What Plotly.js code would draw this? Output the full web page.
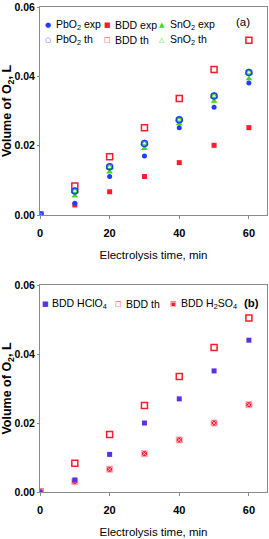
<!DOCTYPE html>
<html><head><meta charset="utf-8">
<script src="https://cdn.plot.ly/plotly-3.0.1.min.js"></script>
<style>html,body{margin:0;padding:0;background:#fff;}#chart{width:269px;height:539px;}</style>
</head><body><div id="chart"></div>
<script>
// ---- data ----
const time = [0, 10, 20, 30, 40, 50, 60];
// panel (a)
const pbo2Exp = [0, 0.0034, 0.0111, 0.0170, 0.0252, 0.0311, 0.0381];
const pbo2Th  = [0, 0.0069, 0.0139, 0.0206, 0.0275, 0.0343, 0.0411];
const sno2Exp = [0, 0.0055, 0.0124, 0.0192, 0.0263, 0.0328, 0.0393];
const sno2Th  = [0, 0.0069, 0.0138, 0.0206, 0.0275, 0.0343, 0.0411];
const bddExp  = [0, 0.0029, 0.0067, 0.0111, 0.0151, 0.0201, 0.0252];
const bddTh   = [0, 0.0084, 0.0168, 0.0252, 0.0336, 0.0420, 0.0504];
// panel (b)
const bddHClO4 = [0, 0.0035, 0.0109, 0.0200, 0.0270, 0.0351, 0.0440];
const bddThB   = [0, 0.0083, 0.0167, 0.0251, 0.0335, 0.0419, 0.0504];
const bddH2SO4 = [0, 0.0030, 0.0066, 0.0111, 0.0151, 0.0200, 0.0253];
// ticks & labels
const xTicks = [0, 20, 40, 60];
const yTicks = [0, 0.02, 0.04, 0.06];
const xTitle = 'Electrolysis time, min';
const yTitle = 'Volume of O<sub>2</sub>, L';
const namesA = ['PbO<sub>2</sub> exp', 'BDD exp', 'SnO<sub>2</sub> exp', 'PbO<sub>2</sub> th', 'BDD th', 'SnO<sub>2</sub> th'];
const namesB = ['BDD HClO<sub>4</sub>', 'BDD th', 'BDD H<sub>2</sub>SO<sub>4</sub>'];
const panelLabels = ['(a)', '(b)'];

// ---- styles ----
const BLUE = '#1f3dff', RED = '#ff1a2e', GREEN = '#3fdc12', PURPLE = '#5a30e8';
const SANS = '"Liberation Sans", Arial, sans-serif';

function tr(y, name, sym, color, size, xa, ya, extra) {
  const m = Object.assign({symbol: sym, color: color, size: size, line: {color: color, width: sym.indexOf('open') >= 0 ? 1.5 : 0}}, extra || {});
  return {x: time, y: y, name: name, type: 'scatter', mode: 'markers', marker: m,
          xaxis: xa, yaxis: ya, showlegend: false, cliponaxis: true, hoverinfo: 'skip'};
}

const data = [
  tr(bddExp,  namesA[1], 'square', RED, 5, 'x', 'y'),
  tr(bddTh,   namesA[4], 'square-open', RED, 6, 'x', 'y'),
  tr(sno2Exp, namesA[2], 'triangle-up', GREEN, 6, 'x', 'y'),
  tr(pbo2Exp, namesA[0], 'circle', BLUE, 5, 'x', 'y'),
  tr(sno2Th,  namesA[5], 'triangle-up-open', GREEN, 6, 'x', 'y'),
  tr(pbo2Th,  namesA[3], 'circle-open', BLUE, 6, 'x', 'y'),
  tr(bddThB,   namesB[1], 'square-open', RED, 6, 'x2', 'y2'),
  tr(bddH2SO4, namesB[2], 'square-x', RED, 6, 'x2', 'y2', {line: {color: '#ffb3bb', width: 1}}),
  tr(bddHClO4, namesB[0], 'square', PURPLE, 5, 'x2', 'y2')
];

const L = 40, T = 7, PW = 227, PH = 485;
const px = v => (v - L) / PW;
const py = v => 1 - (v - T) / PH;

function xax(anchor) {
  return {anchor: anchor, domain: [0, 1], range: [0, 65.2], tickvals: xTicks, ticktext: xTicks.map(String),
    showline: true, mirror: true, linecolor: '#8a8a8a', linewidth: 1, ticks: 'outside', ticklen: 3,
    tickcolor: '#8a8a8a', showgrid: false, zeroline: false, ticklabelstandoff: 5, ticklabeloverflow: 'allow',
    tickfont: {family: SANS, size: 11, color: '#000', weight: 'bold'},
    title: {text: xTitle, font: {family: SANS, size: 11.5, color: '#000'}, standoff: 12}};
}
function yax(anchor, dom) {
  return {anchor: anchor, domain: dom, range: [0, 0.06], tickvals: yTicks, tickformat: '.2f',
    showline: true, mirror: true, linecolor: '#8a8a8a', linewidth: 1, ticks: 'outside', ticklen: 2,
    tickcolor: '#8a8a8a', showgrid: false, zeroline: false, ticklabeloverflow: 'allow',
    tickfont: {family: SANS, size: 10.5, color: '#000', weight: 'bold'},
    title: {text: yTitle, font: {family: SANS, size: 12.5, color: '#000', weight: 'bold'}, standoff: 0}};
}

const glyphs = {'circle': '●', 'circle-open': '○', 'square': '■', 'square-open': '□', 'triangle-up': '▲', 'triangle-up-open': '△', 'square-x': '▣'};
const annotations = [];
function legendEntry(name, glyph, color, mx, tx, yy) {
  annotations.push({xref: 'paper', yref: 'paper', x: px(mx), y: py(yy), xanchor: 'center', yanchor: 'middle',
    text: glyph, showarrow: false, font: {family: 'DejaVu Sans', size: 7, color: color}});
  annotations.push({xref: 'paper', yref: 'paper', x: px(tx - 2), y: py(yy), xanchor: 'left', yanchor: 'middle',
    text: name, showarrow: false, font: {family: SANS, size: 10.5, color: '#000'}});
}
legendEntry(namesA[0], glyphs['circle'], BLUE, 48, 56, 25);
legendEntry(namesA[1], glyphs['square'], RED, 107, 115, 25);
legendEntry(namesA[2], glyphs['triangle-up'], GREEN, 162, 170, 25);
legendEntry(namesA[3], glyphs['circle-open'], BLUE, 48, 56, 40);
legendEntry(namesA[4], glyphs['square-open'], RED, 107, 115, 40);
legendEntry(namesA[5], glyphs['triangle-up-open'], GREEN, 162, 170, 40);
legendEntry(namesB[0], glyphs['square'], PURPLE, 45, 52, 304);
legendEntry(namesB[1], glyphs['square-open'], RED, 118, 126, 304);
legendEntry(namesB[2], glyphs['square-x'], RED, 173, 181, 304);
annotations.push({xref: 'paper', yref: 'paper', x: px(243), y: py(22), xanchor: 'center', yanchor: 'middle',
  text: panelLabels[0], showarrow: false, font: {family: SANS, size: 11.5, color: '#000'}});
annotations.push({xref: 'paper', yref: 'paper', x: px(251), y: py(303), xanchor: 'center', yanchor: 'middle',
  text: panelLabels[1], showarrow: false, font: {family: SANS, size: 11.5, color: '#000', weight: 'bold'}});

const layout = {
  width: 269, height: 539,
  margin: {l: L, r: 269 - L - PW, t: T, b: 539 - T - PH, pad: 0},
  paper_bgcolor: '#fff', plot_bgcolor: '#fff', showlegend: false,
  xaxis: xax('y'), yaxis: yax('x', [1 - (215 - T) / PH, 1]),
  xaxis2: xax('y2'), yaxis2: yax('x2', [0, 1 - (285 - T) / PH]),
  annotations: annotations
};
Plotly.newPlot('chart', data, layout, {displayModeBar: false, staticPlot: true});
</script></body></html>
